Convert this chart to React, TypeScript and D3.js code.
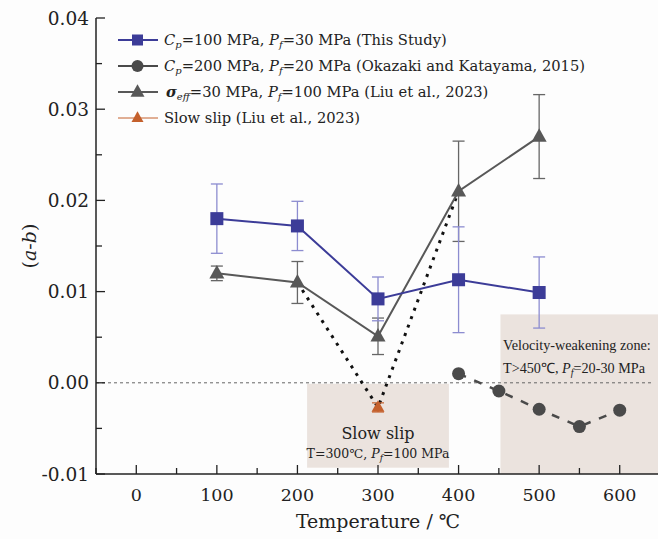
import React from "react";
import * as d3 from "d3";

// this study: Cp = 100 MPa, Pf = 30 MPa
const temps = [100, 200, 300, 400, 500];
const thisStudy = [0.018, 0.0172, 0.0092, 0.0113, 0.0099];
const thisStudyErr = [0.0038, 0.0027, 0.0024, 0.0058, 0.0039];

// Liu et al. 2023, sigma_eff = 30 MPa
const liu = [0.012, 0.011, 0.0051, 0.021, 0.027];
const liuErr = [0.0008, 0.0023, 0.002, 0.0055, 0.0046];

// Okazaki and Katayama 2015
const okaTemps = [400, 450, 500, 550, 600];
const okazaki = [0.001, -0.0009, -0.0029, -0.0048, -0.003];

// slow slip
const slowTemp = 300;
const slowVal = -0.0027;
const slowErr = 0.0005;

// dotted guide path through the slow slip point
const guideTemps = [200, 300, 400];
const guideVals = [0.011, -0.0027, 0.021];

const xTicks = [0, 100, 200, 300, 400, 500, 600];
const yTicks = [-0.01, 0, 0.01, 0.02, 0.03, 0.04];

const W = 658;
const H = 539;
const FONT = "DejaVu Serif";
const NARROW = "Liberation Serif";

const BLUE = "#3c3c98";
const BLUE_ERR = "#8c8cd0";
const GRAY = "#585858";
const CIRC = "#4a4a4a";
const ORANGE = "#c4602c";
const BOX = "#ebe3de";

export default function App() {
  const x = d3.scaleLinear().domain([-50, 650]).range([96, 660]);
  const y = d3.scaleLinear().domain([-0.01, 0.04]).range([474, 18]);

  const line = d3
    .line<[number, number]>()
    .x((d) => x(d[0]))
    .y((d) => y(d[1]));

  const zip = (a: number[], b: number[]) => a.map((t, i) => [t, b[i]] as [number, number]);

  const tri = (cx: number, cy: number, s: number, fill: string) => {
    const h = s * 0.9;
    return (
      <path
        d={`M${cx},${cy - h * 0.62}L${cx + s / 2},${cy + h * 0.38}L${cx - s / 2},${cy + h * 0.38}Z`}
        fill={fill}
      />
    );
  };

  const errBar = (t: number, v: number, e: number, color: string, w = 1.3) => (
    <g stroke={color} strokeWidth={w}>
      <line x1={x(t)} x2={x(t)} y1={y(v - e)} y2={y(v + e)} />
      <line x1={x(t) - 6} x2={x(t) + 6} y1={y(v - e)} y2={y(v - e)} />
      <line x1={x(t) - 6} x2={x(t) + 6} y1={y(v + e)} y2={y(v + e)} />
    </g>
  );

  const minorX = d3.range(-50, 651, 50);
  const minorY = d3.range(-0.01, 0.0401, 0.005);

  const legend = [
    { kind: "sq", color: BLUE, y: 40 },
    { kind: "ci", color: CIRC, y: 66 },
    { kind: "tr", color: GRAY, y: 92 },
    { kind: "so", color: ORANGE, y: 118 },
  ];

  return (
    <svg
      width={W}
      height={H}
      style={{ position: "absolute", left: 0, top: 0, background: "#fdfdfd" }}
      fontFamily={FONT}
    >
      {/* shaded zones */}
      <rect x={x(212)} y={y(0) + 1} width={x(388) - x(212)} height={y(-0.0092) - y(0)} fill={BOX} />
      <rect x={x(452)} y={y(0.0075)} width={W - x(452)} height={y(-0.01) - y(0.0075)} fill={BOX} />

      {/* zero line */}
      <line x1={x(-50)} x2={653} y1={y(0)} y2={y(0)} stroke="#666" strokeWidth={1} strokeDasharray="3,3" />

      {/* box texts */}
      <text x={x(300)} y={439} textAnchor="middle" fontSize={16} fill="#222">Slow slip</text>
      <text x={x(300)} y={458} textAnchor="middle" fontSize={12.5} fill="#222">
        T=300℃, <tspan fontStyle="italic">P</tspan>
        <tspan fontStyle="italic" fontSize={9} dy={3}>f</tspan>
        <tspan dy={-3}>=100 MPa</tspan>
      </text>
      <g fontFamily={NARROW} fontSize={14.2} fill="#222">
        <text x={503} y={350}>Velocity-weakening zone:</text>
        <text x={503} y={373}>
          T&gt;450℃, <tspan fontStyle="italic">P</tspan>
          <tspan fontStyle="italic" fontSize={10} dy={3}>f</tspan>
          <tspan dy={-3}>=20-30 MPa</tspan>
        </text>
      </g>

      {/* dotted guide */}
      <path d={line(zip(guideTemps, guideVals)) || ""} fill="none" stroke="#111" strokeWidth={3} strokeDasharray="3,6" />

      {/* Okazaki */}
      <path d={line(zip(okaTemps, okazaki)) || ""} fill="none" stroke={CIRC} strokeWidth={2.5} strokeDasharray="8,9" />
      {okaTemps.map((t, i) => (
        <circle key={"c" + i} cx={x(t)} cy={y(okazaki[i])} r={6.5} fill={CIRC} />
      ))}

      {/* Liu */}
      {temps.map((t, i) => errBar(t, liu[i], liuErr[i], "#666"))}
      <path d={line(zip(temps, liu)) || ""} fill="none" stroke={GRAY} strokeWidth={2} />
      {temps.map((t, i) => <g key={"t" + i}>{tri(x(t), y(liu[i]), 15, GRAY)}</g>)}

      {/* this study */}
      {temps.map((t, i) => errBar(t, thisStudy[i], thisStudyErr[i], BLUE_ERR))}
      <path d={line(zip(temps, thisStudy)) || ""} fill="none" stroke={BLUE} strokeWidth={2} />
      {temps.map((t, i) => (
        <rect key={"s" + i} x={x(t) - 6.5} y={y(thisStudy[i]) - 6.5} width={13} height={13} fill={BLUE} />
      ))}

      {/* slow slip */}
      {errBar(slowTemp, slowVal, slowErr, ORANGE, 1.2)}
      {tri(x(slowTemp), y(slowVal), 13, ORANGE)}

      {/* axes */}
      <line x1={96} x2={96} y1={y(0.04)} y2={y(-0.01)} stroke="#222" strokeWidth={1.5} />
      <line x1={96} x2={660} y1={y(-0.01)} y2={y(-0.01)} stroke="#222" strokeWidth={1.5} />
      {minorY.map((v, i) => (
        <line key={"my" + i} x1={96} x2={i % 2 === 0 ? 105 : 102} y1={y(v)} y2={y(v)} stroke="#222" strokeWidth={1.3} />
      ))}
      {minorX.map((t, i) => (
        <line key={"mx" + i} x1={x(t)} x2={x(t)} y1={474} y2={i % 2 === 1 ? 465 : 468} stroke="#222" strokeWidth={1.3} />
      ))}
      {yTicks.map((v) => (
        <text key={"yl" + v} x={89} y={y(v) + 6.5} textAnchor="end" fontSize={18.5} fill="#222">
          {d3.format(".2f")(v).replace("−", "-")}
        </text>
      ))}
      {xTicks.map((t) => (
        <text key={"xl" + t} x={x(t)} y={501} textAnchor="middle" fontSize={17.5} fill="#222">
          {t}
        </text>
      ))}
      <text x={x(300)} y={528} textAnchor="middle" fontSize={19} fill="#222">
        Temperature / ℃
      </text>
      <text transform={`translate(36,${y(0.015)}) rotate(-90)`} textAnchor="middle" fontSize={19} fill="#222">
        (<tspan fontStyle="italic">a</tspan>-<tspan fontStyle="italic">b</tspan>)
      </text>

      {/* legend */}
      {legend.map((l) => (
        <g key={l.kind}>
          <line x1={118} x2={158} y1={l.y} y2={l.y} stroke={l.color} strokeWidth={l.kind === "so" ? 1 : 2} />
          {l.kind === "sq" && <rect x={132} y={l.y - 5.5} width={11} height={11} fill={l.color} />}
          {l.kind === "ci" && <circle cx={137.5} cy={l.y} r={6} fill={l.color} />}
          {l.kind === "tr" && tri(137.5, l.y, 14, l.color)}
          {l.kind === "so" && tri(137.5, l.y, 12, l.color)}
        </g>
      ))}
      <g fontSize={14.7} fill="#222">
        <text x={164} y={45}>
          <tspan fontStyle="italic">C</tspan>
          <tspan fontStyle="italic" fontSize={10} dy={3}>p</tspan>
          <tspan dy={-3}>=100 MPa, </tspan>
          <tspan fontStyle="italic">P</tspan>
          <tspan fontStyle="italic" fontSize={10} dy={3}>f</tspan>
          <tspan dy={-3}>=30 MPa (This Study)</tspan>
        </text>
        <text x={164} y={71}>
          <tspan fontStyle="italic">C</tspan>
          <tspan fontStyle="italic" fontSize={10} dy={3}>p</tspan>
          <tspan dy={-3}>=200 MPa, </tspan>
          <tspan fontStyle="italic">P</tspan>
          <tspan fontStyle="italic" fontSize={10} dy={3}>f</tspan>
          <tspan dy={-3}>=20 MPa (Okazaki and Katayama, 2015)</tspan>
        </text>
        <text x={166} y={97}>
          <tspan fontStyle="italic" fontWeight="bold">σ</tspan>
          <tspan fontStyle="italic" fontSize={10} dy={3}>eff</tspan>
          <tspan dy={-3}>=30 MPa, </tspan>
          <tspan fontStyle="italic">P</tspan>
          <tspan fontStyle="italic" fontSize={10} dy={3}>f</tspan>
          <tspan dy={-3}>=100 MPa (Liu et al., 2023)</tspan>
        </text>
        <text x={164} y={123}>Slow slip (Liu et al., 2023)</text>
      </g>
    </svg>
  );
}
